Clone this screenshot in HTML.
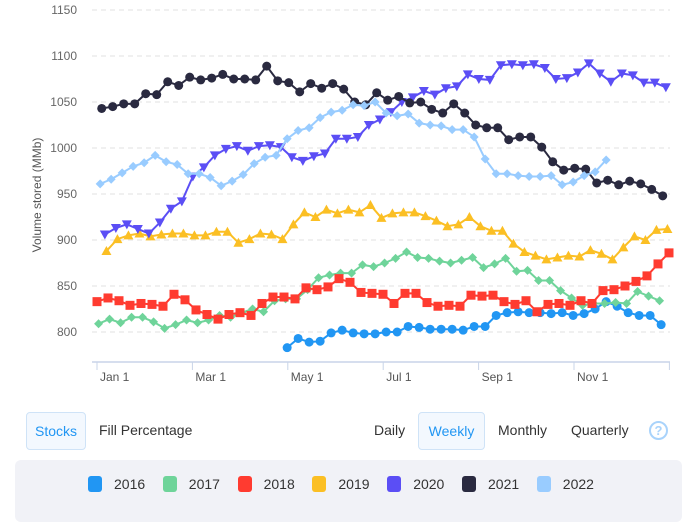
<!DOCTYPE html>
<html><head><meta charset="utf-8"><style>
body{margin:0;width:698px;height:523px;background:#fff;font-family:"Liberation Sans",sans-serif;overflow:hidden;position:relative}
.btn{position:absolute;font-size:14px;color:#333;line-height:36px;height:36px;top:412px}
.sel{border:1px solid #cfe3f7;background:#f3f8fe;color:#2196f3;border-radius:4px;text-align:center}
#legend{position:absolute;left:15px;top:460px;width:667px;height:62px;background:#f1f2f7;border-radius:6px}
.li{position:absolute;top:16px;font-size:14px;color:#333;line-height:16px}
.li span{display:inline-block;width:14px;height:16px;border-radius:3px;vertical-align:top;margin-right:12px}
</style></head><body>
<svg id="chart" width="698" height="400" style="position:absolute;left:0;top:0"></svg>
<div class="btn sel" style="left:26px;width:58px">Stocks</div>
<div class="btn" style="left:99px">Fill Percentage</div>
<div class="btn" style="left:374px">Daily</div>
<div class="btn sel" style="left:418px;width:65px">Weekly</div>
<div class="btn" style="left:498px">Monthly</div>
<div class="btn" style="left:571px">Quarterly</div>
<div style="position:absolute;left:649px;top:421px;width:15px;height:15px;border:2px solid #a9d3fb;border-radius:50%;color:#a9d3fb;font-size:13px;font-weight:bold;text-align:center;line-height:15px">?</div>
<div id="legend"></div>
<script>
const years=['2016','2017','2018','2019','2020','2021','2022'];
const colors=['#2196f3','#6fd49a','#ff3b30','#fbbf24','#5b4ef5','#2a2a40','#99ccff'];
const shapes=['circle','diamond','square','up','down','circle','diamond'];
const startDays=[121,1,0,6,5,3,2];
const s2016=[783,793,789,790,799,802,799,798,798,800,800,806,805,803,803,803,802,806,806,818,821,822,821,821,820,821,818,820,825,833,828,821,818,818,808];
const s2017=[809,814,810,816,816,811,804,808,813,810,813,818,816,821,825,822,834,836,836,846,859,862,864,864,873,871,875,880,887,881,880,877,875,878,881,870,874,880,866,867,856,856,845,837,829,831,831,832,831,844,839,834];
const s2018=[833,837,834,829,831,830,828,841,835,824,819,814,819,821,818,831,838,838,836,848,846,849,858,854,843,842,841,831,842,842,832,828,829,828,840,839,840,833,830,834,822,830,831,829,834,831,845,846,850,855,861,874,886];
const s2019=[888,901,905,907,904,906,907,907,905,905,909,909,897,901,907,906,901,917,930,925,933,929,933,930,938,924,929,930,930,926,921,915,917,925,915,910,910,896,887,883,879,881,883,882,889,885,879,892,904,900,911,912];
const s2020=[906,913,917,912,907,919,934,942,969,979,992,999,1002,997,1002,1003,1001,990,986,991,994,1010,1010,1012,1025,1031,1039,1050,1055,1062,1058,1065,1067,1080,1075,1074,1090,1091,1090,1091,1087,1075,1076,1082,1092,1081,1072,1081,1079,1071,1071,1066];
const s2021=[1043,1045,1048,1048,1059,1058,1072,1068,1077,1074,1076,1080,1075,1075,1074,1089,1073,1071,1061,1070,1065,1070,1064,1050,1047,1060,1052,1056,1049,1050,1042,1038,1048,1038,1025,1022,1022,1009,1012,1012,1001,985,976,978,977,962,965,960,964,961,955,948];
const s2022=[961,966,973,980,984,992,985,982,972,972,968,959,964,971,983,990,992,1010,1019,1022,1033,1039,1041,1047,1046,1050,1038,1035,1037,1027,1025,1024,1020,1020,1012,988,972,972,970,969,969,970,960,963,970,974,987];
const series=[s2016,s2017,s2018,s2019,s2020,s2021,s2022];
const yTicks=[800,850,900,950,1000,1050,1100,1150];
const xLabels=['Jan 1','Mar 1','May 1','Jul 1','Sep 1','Nov 1'];
const NS='http://www.w3.org/2000/svg';
const svg=document.getElementById('chart');
const y=v=>56+(1100-v)*0.92;
const x=d=>97+d*11/7;
function mk(t,a){const e=document.createElementNS(NS,t);for(const k in a)e.setAttribute(k,a[k]);return e;}
yTicks.forEach(v=>{
  const g=mk('line',{x1:92,x2:670,y1:y(v),y2:y(v),stroke:'#e0e0e0','stroke-dasharray':'5,4'});
  
  
  svg.appendChild(g);
  const t=mk('text',{x:77,y:y(v)+4,'text-anchor':'end','font-size':12,fill:'#666'});
  
  
  t.textContent=v;svg.appendChild(t);
});
const ax=mk('line',{x1:92,x2:670,y1:362,y2:362,stroke:'#c8d4e8','stroke-width':1.5});


svg.appendChild(ax);
for(let i=0;i<7;i++){
  const tx=97+i*95.4;
  const tk=mk('line',{x1:tx,x2:tx,y1:362,y2:370,stroke:'#c8d4e8'});
  
  
  svg.appendChild(tk);
  if(i<xLabels.length){
    const t=mk('text',{x:tx+3,y:381,'font-size':12,fill:'#555'});
    
    
    t.textContent=xLabels[i];svg.appendChild(t);
  }
}
const yt=mk('text',{transform:'translate(41,195) rotate(-90)','text-anchor':'middle','font-size':12,fill:'#555'});


yt.textContent='Volume stored (MMb)';svg.appendChild(yt);
function marker(shape,cx,cy,c){
  if(shape==='circle')return mk('circle',{cx,cy,r:4.5,fill:c});
  if(shape==='square')return mk('rect',{x:cx-4.5,y:cy-4.5,width:9,height:9,fill:c});
  let p;
  if(shape==='diamond')p=[[cx,cy-4.5],[cx+4.5,cy],[cx,cy+4.5],[cx-4.5,cy]];
  else if(shape==='up')p=[[cx,cy-5],[cx+5,cy+4],[cx-5,cy+4]];
  else p=[[cx,cy+5],[cx+5,cy-4],[cx-5,cy-4]];
  return mk('polygon',{points:p.map(q=>q.join(',')).join(' '),fill:c});
}
series.forEach((s,si)=>{
  const g=mk('g',{});
  
  
  const pts=s.map((v,i)=>[x(startDays[si]+i*7),y(v)]);
  const pl=mk('polyline',{points:pts.map(p=>p.join(',')).join(' '),fill:'none',stroke:colors[si],'stroke-width':2});
  
  
  g.appendChild(pl);
  pts.forEach(p=>{const m=marker(shapes[si],p[0],p[1],colors[si]);
    
    
    g.appendChild(m);});
  svg.appendChild(g);
});
const lg=document.getElementById('legend');
years.forEach((yr,i)=>{
  const d=document.createElement('div');
  d.className='li';d.style.left=(73+i*74.8)+'px';
  
  
  d.innerHTML='<span style="background:'+colors[i]+'"></span>'+yr;
  lg.appendChild(d);
});
</script>
</body></html>
